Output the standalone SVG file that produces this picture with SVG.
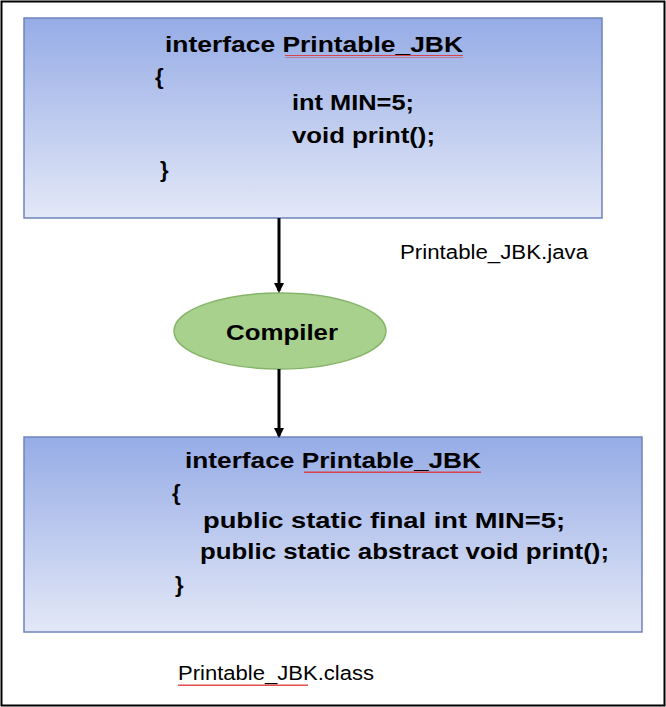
<svg xmlns="http://www.w3.org/2000/svg" width="666" height="707" viewBox="0 0 666 707">
<style>
.b{font-family:"Liberation Sans",Arial,sans-serif;font-weight:bold;font-size:22px;fill:#000}
.r{font-family:"Liberation Sans",Arial,sans-serif;font-size:20px;fill:#000}
.box{fill:url(#g);stroke:#6f84bd;stroke-width:1.5}
.sq{fill:none;stroke:#e03030;stroke-width:1}
</style>
<defs>
<linearGradient id="g" x1="0" y1="0" x2="0" y2="1"><stop offset="0" stop-color="#96ace6"/><stop offset="1" stop-color="#e3e8f7"/></linearGradient>
<marker id="a" markerWidth="10" markerHeight="10" refX="8" refY="5" orient="auto" markerUnits="userSpaceOnUse"><path d="M0,0 L10,5 L0,10 Z" fill="#000"/></marker>
<pattern id="w" width="4" height="3" patternUnits="userSpaceOnUse"><path d="M0,2 L1,0.5 L2,2 L3,0.5 L4,2" class="sq"/></pattern>
</defs>
<rect x="1.5" y="1.5" width="663" height="704" fill="#fff" stroke="#000" stroke-width="2"/>
<g id="src">
<rect class="box" x="24" y="18" width="578" height="200"/>
<text class="b" x="165" y="52" textLength="298" lengthAdjust="spacingAndGlyphs">interface Printable_JBK</text>
<rect x="285" y="55" width="178" height="3" fill="url(#w)"/>
<text class="b" x="155" y="84">{</text>
<text class="b" x="292" y="110" textLength="122" lengthAdjust="spacingAndGlyphs">int MIN=5;</text>
<text class="b" x="292" y="143" textLength="143" lengthAdjust="spacingAndGlyphs">void print();</text>
<text class="b" x="160" y="177">}</text>
</g>
<g id="javalabel"><text class="r" x="400" y="259" textLength="188" lengthAdjust="spacingAndGlyphs">Printable_JBK.java</text></g>
<g id="compiler">
<ellipse cx="280" cy="331" rx="106" ry="38" fill="#a9d18e" stroke="#86b56a" stroke-width="1.5"/>
<text class="b" x="282" y="340" text-anchor="middle" textLength="112" lengthAdjust="spacingAndGlyphs">Compiler</text>
</g>
<g id="cls">
<rect class="box" x="24" y="437" width="618" height="195"/>
<text class="b" x="185" y="468" textLength="296" lengthAdjust="spacingAndGlyphs">interface Printable_JBK</text>
<rect x="304" y="471" width="177" height="3" fill="url(#w)"/>
<text class="b" x="172" y="500">{</text>
<text class="b" x="203" y="528" textLength="362" lengthAdjust="spacingAndGlyphs">public static final int MIN=5;</text>
<text class="b" x="200" y="559" textLength="409" lengthAdjust="spacingAndGlyphs">public static abstract void print();</text>
<text class="b" x="175" y="592">}</text>
</g>
<g id="classlabel"><text class="r" x="178" y="680" textLength="196" lengthAdjust="spacingAndGlyphs">Printable_JBK.class</text>
<rect x="178" y="684" width="130" height="3" fill="url(#w)"/></g>
<g id="connectors" stroke="#000" stroke-width="3">
<line x1="279" y1="218" x2="279" y2="291" marker-end="url(#a)"/>
<line x1="279" y1="369" x2="279" y2="436" marker-end="url(#a)"/>
</g>
</svg>
